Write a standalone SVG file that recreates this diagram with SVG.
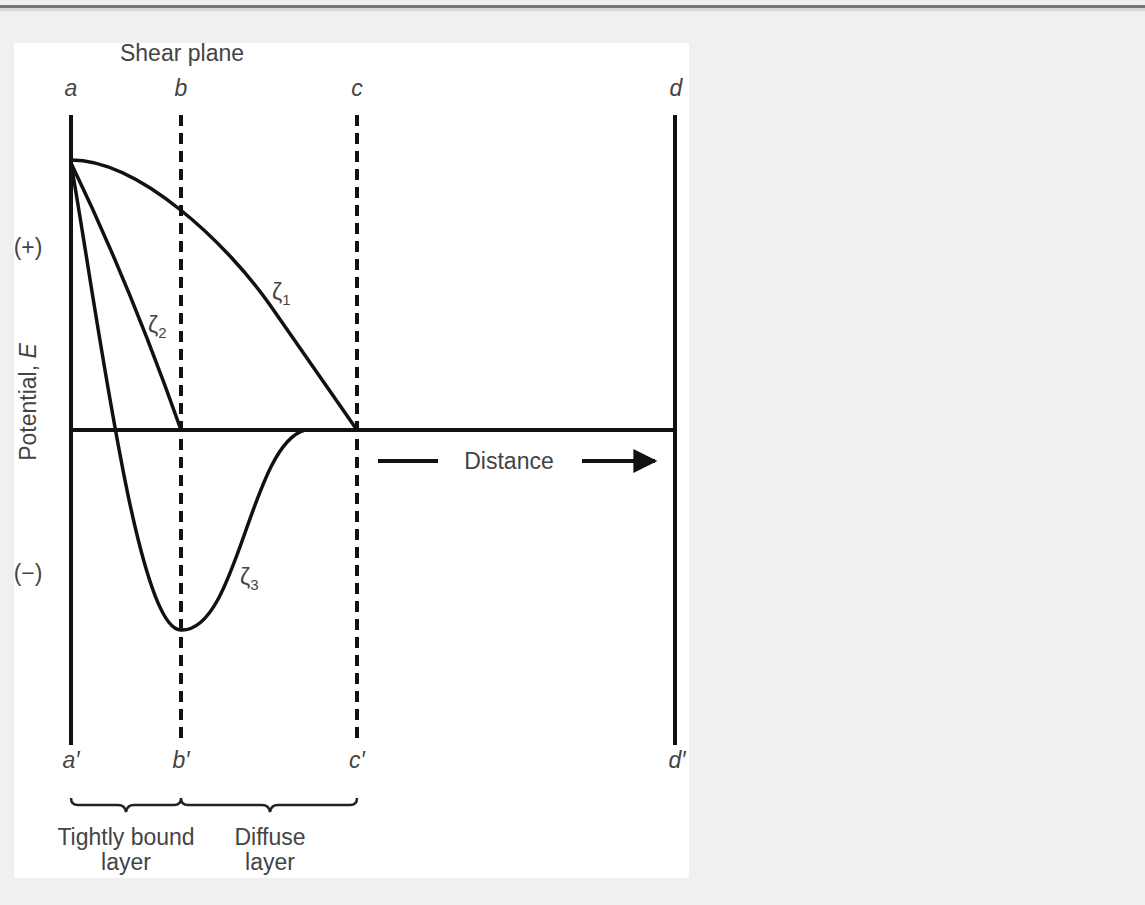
<svg xmlns="http://www.w3.org/2000/svg" width="1145" height="905" viewBox="0 0 1145 905">
<defs>
<style>
.lbl{font-family:"Liberation Sans",Arial,sans-serif;font-size:23px;fill:#444}
.it{font-style:italic}
.ln{stroke:#111;stroke-width:4;fill:none}
.cv{stroke:#111;stroke-width:3.5;fill:none}
.dash{stroke:#111;stroke-width:4;stroke-dasharray:11 7;fill:none}
.br{stroke:#222;stroke-width:2.5;fill:none}
</style>
<marker id="ah" viewBox="0 0 10 10" refX="9" refY="5" markerWidth="6.5" markerHeight="6" orient="auto" markerUnits="strokeWidth">
<path d="M0,0 L10,5 L0,10 Z" fill="#111"/>
</marker>
</defs>
<rect width="1145" height="905" fill="#f0f0f0"/>
<rect x="0" y="5" width="1145" height="3" fill="#777"/>
<rect x="0" y="8" width="1145" height="3" fill="#d8d8d8"/>
<rect x="14" y="43" width="675" height="835" fill="#fff"/>

<g id="axes">
<line class="ln" x1="71" y1="115" x2="71" y2="745"/>
<line class="dash" x1="181" y1="115" x2="181" y2="745"/>
<line class="dash" x1="357" y1="115" x2="357" y2="745"/>
<line class="ln" x1="675" y1="115" x2="675" y2="745"/>
<line class="ln" x1="71" y1="430" x2="675" y2="430"/>
</g>

<g id="connectors">
<path id="zeta1" class="cv" d="M71,160 C140,160 228,245 270,305 L357,430"/>
<path id="zeta2" class="cv" d="M71,163 Q130,285 181,430"/>
<path id="zeta3" class="cv" d="M71,163 C100,330 138,630 181,630 C238,632 250,445 305,430"/>
<line class="ln" x1="378" y1="461" x2="438" y2="461"/>
<line class="ln" x1="582" y1="461" x2="655" y2="461" marker-end="url(#ah)"/>
<path class="br" d="M71,798 Q71,805 78,805 L118,805 Q125,805 126,812 Q127,805 134,805 L174,805 Q181,805 181,798 Q181,805 188,805 L262,805 Q269,805 270,812 Q271,805 278,805 L350,805 Q357,805 357,798"/>
</g>

<g id="labels">
<text class="lbl" x="182" y="61" text-anchor="middle">Shear plane</text>
<text class="lbl it" x="71" y="96" text-anchor="middle">a</text>
<text class="lbl it" x="181" y="96" text-anchor="middle">b</text>
<text class="lbl it" x="357" y="96" text-anchor="middle">c</text>
<text class="lbl it" x="676" y="96" text-anchor="middle">d</text>
<text class="lbl it" x="71" y="768" text-anchor="middle">a′</text>
<text class="lbl it" x="181" y="768" text-anchor="middle">b′</text>
<text class="lbl it" x="357" y="768" text-anchor="middle">c′</text>
<text class="lbl it" x="677" y="768" text-anchor="middle">d′</text>
<text class="lbl" x="28" y="255" text-anchor="middle" font-size="19">(+)</text>
<text class="lbl" x="28" y="581" text-anchor="middle" font-size="19">(−)</text>
<text class="lbl" transform="translate(36,402) rotate(-90)" text-anchor="middle">Potential, <tspan class="it">E</tspan></text>
<text class="lbl" x="272" y="300" font-size="21">ζ<tspan font-size="15" dy="5">1</tspan></text>
<text class="lbl" x="148" y="333" font-size="21">ζ<tspan font-size="15" dy="5">2</tspan></text>
<text class="lbl" x="240" y="585" font-size="21">ζ<tspan font-size="15" dy="5">3</tspan></text>
<text class="lbl" x="509" y="469" text-anchor="middle">Distance</text>
<text class="lbl" x="126" y="845" text-anchor="middle">Tightly bound</text>
<text class="lbl" x="126" y="870" text-anchor="middle">layer</text>
<text class="lbl" x="270" y="845" text-anchor="middle">Diffuse</text>
<text class="lbl" x="270" y="870" text-anchor="middle">layer</text>
</g>
</svg>
